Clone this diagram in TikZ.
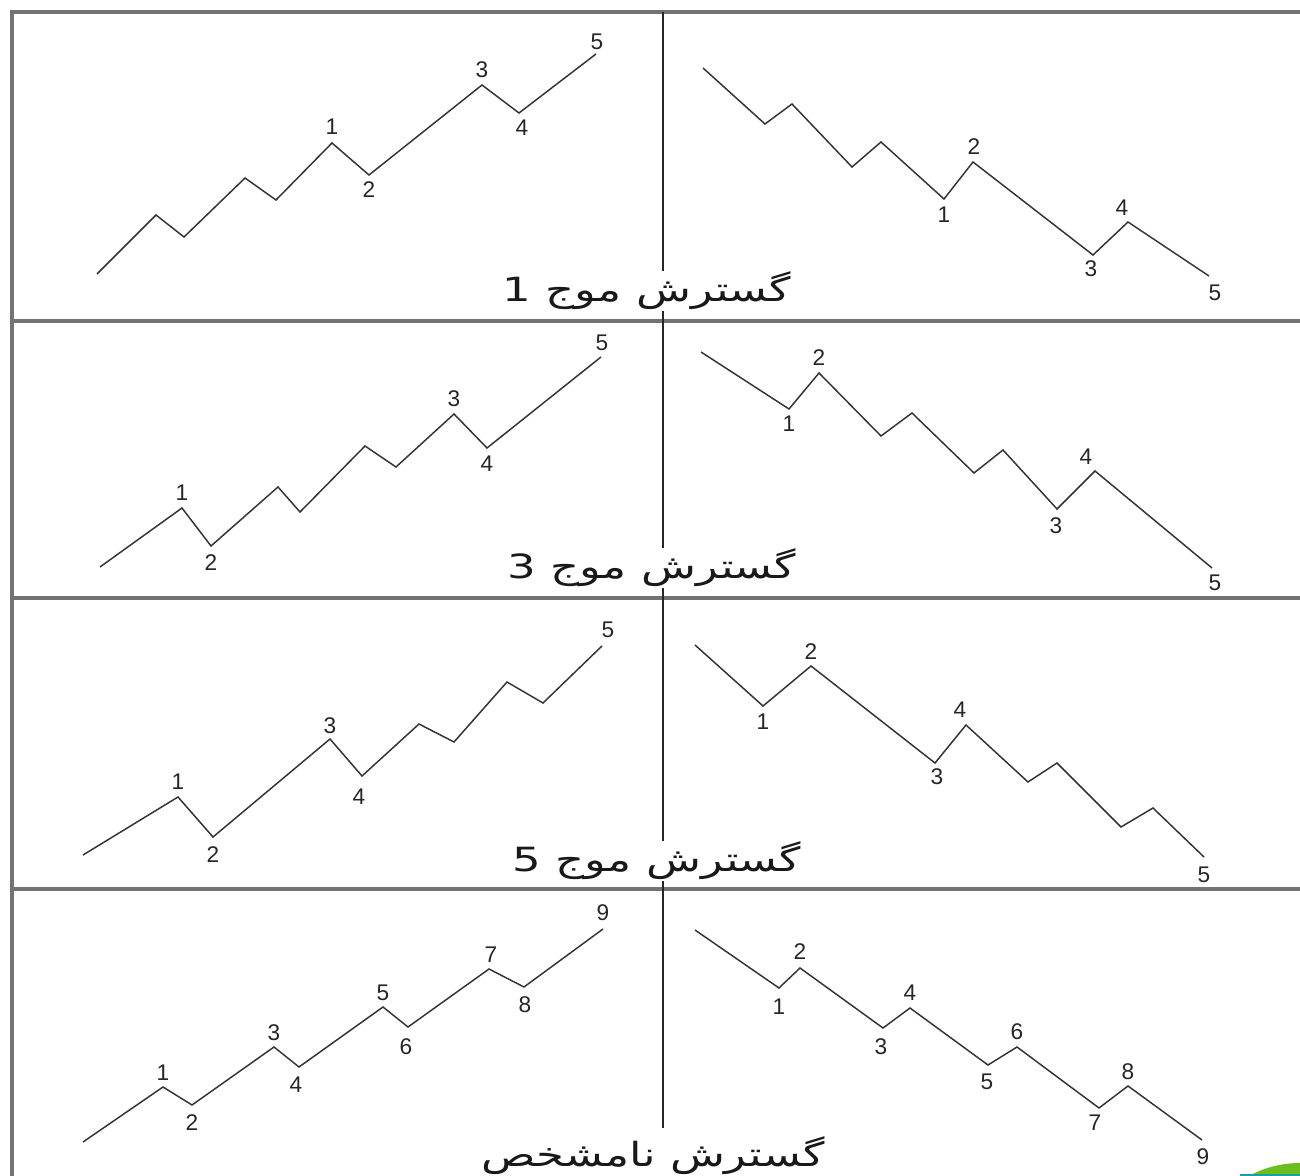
\documentclass[tikz,border=0pt]{standalone}
\usepackage{fontspec}
\setmainfont{Liberation Sans}
\newfontfamily\arabicfont[Script=Arabic]{DejaVu Sans}
\TeXXeTstate=1
\definecolor{badgegreen}{RGB}{108,190,30}
\definecolor{badgeteal}{RGB}{20,160,165}
\begin{document}
\begin{tikzpicture}[x=0.75pt,y=-0.75pt,
  wave/.style={draw=black!80,line width=1.1pt,line join=miter},
  frameline/.style={draw=black!55,line width=2.4pt},
  midline/.style={draw=black!85,line width=0.9pt},
  num/.style={font=\fontsize{17}{17}\selectfont,text=black!85,inner sep=0pt},
  title/.style={font=\arabicfont\fontsize{25}{25}\selectfont,fill=white,inner sep=1pt,text=black!90}]
\useasboundingbox (0,0) rectangle (1300,1176);
\fill[white] (0,0) rectangle (1300,1176);
% frame
\draw[frameline] (12,1176) -- (12,12) -- (1300,12);
\draw[frameline] (12,321) -- (1300,321);
\draw[frameline] (12,598) -- (1300,598);
\draw[frameline] (12,889) -- (1300,889);
\draw[midline] (663,12) -- (663,1128);
% panel 1
\draw[wave] (97,274) -- (156,215) -- (184,237) -- (245,178) -- (276,200) -- (332,143) -- (369,175) -- (482,85) -- (519,113) -- (596,54);
\node[num] (p1l1) at (332,127) {1};
\node[num] (p1l2) at (369,190) {2};
\node[num] (p1l3) at (482,70) {3};
\node[num] (p1l4) at (522,128) {4};
\node[num] (p1l5) at (597,42) {5};
\draw[wave] (703,68) -- (765,124) -- (792,104) -- (852,167) -- (881,142) -- (944,199) -- (973,162) -- (1093,255) -- (1128,222) -- (1209,276);
\node[num] (p1r1) at (944,215) {1};
\node[num] (p1r2) at (974,147) {2};
\node[num] (p1r3) at (1091,269) {3};
\node[num] (p1r4) at (1122,208) {4};
\node[num] (p1r5) at (1215,293) {5};
\node[title] (t1) at (647,291) {\scalebox{1.35}[1]{\beginR گسترش موج 1\endR}};
% panel 2
\draw[wave] (100,567) -- (182,508) -- (211,546) -- (278,487) -- (300,512) -- (365,446) -- (396,467) -- (454,414) -- (487,448) -- (601,357);
\node[num] (p2l1) at (182,493) {1};
\node[num] (p2l2) at (211,563) {2};
\node[num] (p2l3) at (454,399) {3};
\node[num] (p2l4) at (487,464) {4};
\node[num] (p2l5) at (602,343) {5};
\draw[wave] (701,352) -- (789,409) -- (819,373) -- (881,436) -- (912,413) -- (974,473) -- (1003,450) -- (1057,509) -- (1095,471) -- (1212,568);
\node[num] (p2r1) at (789,424) {1};
\node[num] (p2r2) at (819,358) {2};
\node[num] (p2r3) at (1056,526) {3};
\node[num] (p2r4) at (1086,457) {4};
\node[num] (p2r5) at (1215,583) {5};
\node[title] (t2) at (652,568) {\scalebox{1.35}[1]{\beginR گسترش موج 3\endR}};
% panel 3
\draw[wave] (83,855) -- (178,797) -- (213,837) -- (330,739) -- (362,776) -- (419,724) -- (454,742) -- (507,682) -- (543,703) -- (602,646);
\node[num] (p3l1) at (178,782) {1};
\node[num] (p3l2) at (213,855) {2};
\node[num] (p3l3) at (330,726) {3};
\node[num] (p3l4) at (359,797) {4};
\node[num] (p3l5) at (608,630) {5};
\draw[wave] (695,645) -- (763,706) -- (811,666) -- (935,763) -- (966,725) -- (1028,782) -- (1057,763) -- (1121,827) -- (1153,808) -- (1204,857);
\node[num] (p3r1) at (763,722) {1};
\node[num] (p3r2) at (811,652) {2};
\node[num] (p3r3) at (937,777) {3};
\node[num] (p3r4) at (960,710) {4};
\node[num] (p3r5) at (1204,875) {5};
\node[title] (t3) at (657,861) {\scalebox{1.35}[1]{\beginR گسترش موج 5\endR}};
% panel 4
\draw[wave] (83,1142) -- (163,1087) -- (192,1105) -- (274,1047) -- (299,1067) -- (383,1007) -- (408,1027) -- (489,969) -- (524,987) -- (603,929);
\node[num] (p4l1) at (163,1073) {1};
\node[num] (p4l2) at (192,1123) {2};
\node[num] (p4l3) at (274,1033) {3};
\node[num] (p4l4) at (296,1085) {4};
\node[num] (p4l5) at (383,993) {5};
\node[num] (p4l6) at (406,1047) {6};
\node[num] (p4l7) at (491,955) {7};
\node[num] (p4l8) at (525,1005) {8};
\node[num] (p4l9) at (603,913) {9};
\draw[wave] (695,930) -- (779,988) -- (800,968) -- (883,1028) -- (910,1008) -- (988,1065) -- (1017,1047) -- (1099,1108) -- (1128,1086) -- (1202,1140);
\node[num] (p4r1) at (779,1007) {1};
\node[num] (p4r2) at (800,952) {2};
\node[num] (p4r3) at (881,1047) {3};
\node[num] (p4r4) at (910,993) {4};
\node[num] (p4r5) at (987,1082) {5};
\node[num] (p4r6) at (1017,1032) {6};
\node[num] (p4r7) at (1095,1123) {7};
\node[num] (p4r8) at (1128,1072) {8};
\node[num] (p4r9) at (1203,1157) {9};
\node[title] (t4) at (653,1156) {\scalebox{1.35}[1]{\beginR گسترش نامشخص\endR}};
% corner badge
\begin{scope}
\clip (1200,1140) rectangle (1300,1176);
\fill[badgegreen] (1300,1270) circle[radius=107];
\fill[badgeteal] (1240,1174) rectangle (1300,1176);
\end{scope}
\end{tikzpicture}
\end{document}
